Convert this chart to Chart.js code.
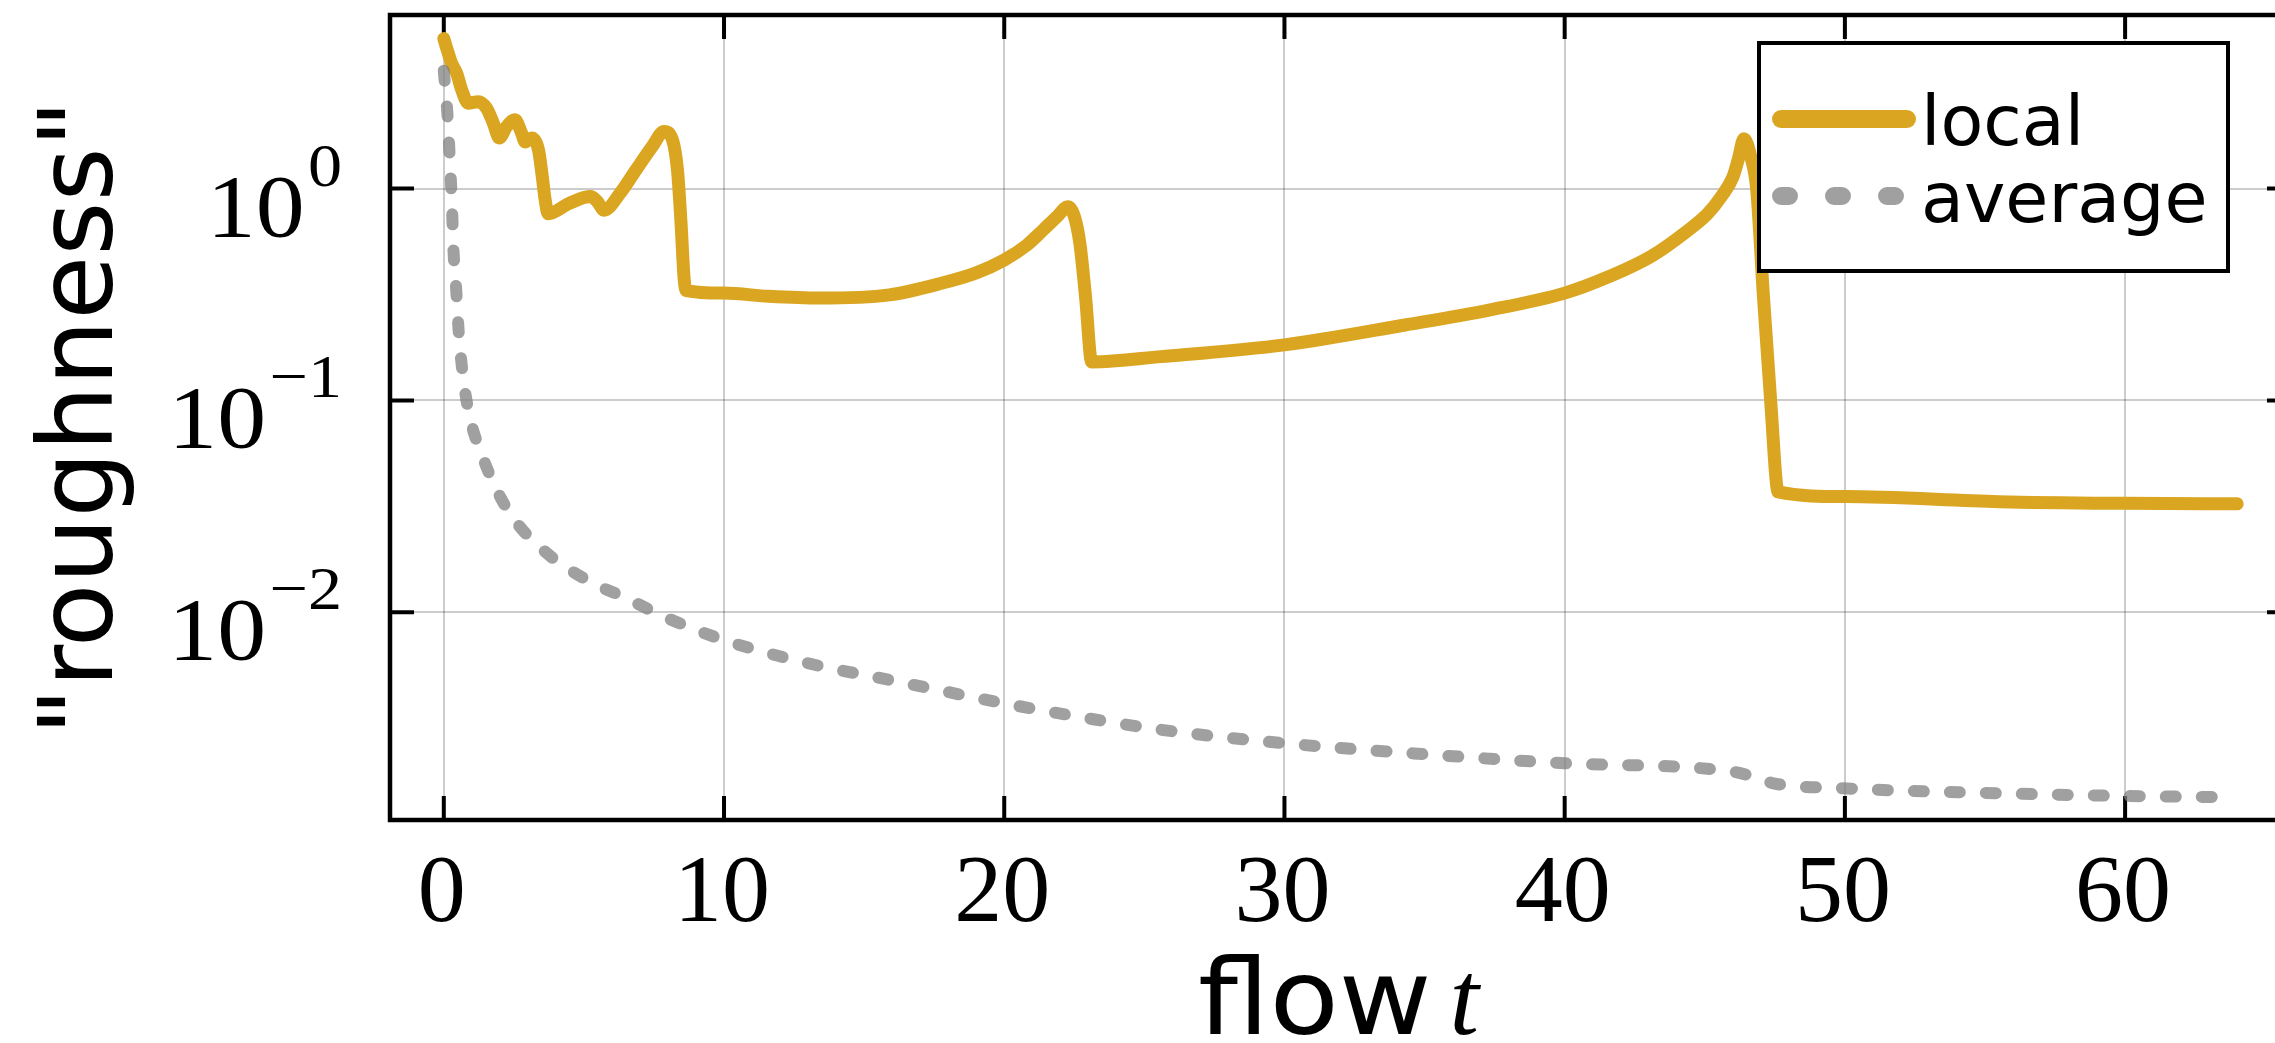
<!DOCTYPE html>
<html lang="en">
<head>
<meta charset="utf-8">
<style>
  html, body { margin: 0; padding: 0; background: #ffffff; }
  #frame { width: 2275px; height: 1043px; overflow: hidden; position: relative; }
  #wrap { width: 2291px; height: 1043px; position: relative; }
</style>
</head>
<body>
<div id="frame"><div id="wrap"><canvas id="myChart"></canvas></div></div>
<script src="https://cdn.jsdelivr.net/npm/chart.js"></script>
<script>
// values (flow time t, roughness on a log axis)
const localT = [0, 0.16, 0.28, 0.46, 0.64, 0.87, 1.23, 1.53, 1.77, 1.98, 2.24, 2.54, 2.78, 2.9, 3.14, 3.38, 3.5, 3.62, 3.72, 4.47,
  5.24, 5.48, 5.72, 6.29, 6.85, 7.44, 7.86, 8.16, 8.34, 8.46, 8.58, 8.66, 10.0, 11.6, 13.4, 15.9, 17.75, 19.0, 20.0, 20.8,
  21.4, 21.9, 22.27, 22.5, 22.7, 22.9, 23.12, 25.6, 30.0, 34.3, 37.3, 40.0, 41.5, 43.1, 44.3, 45.1, 45.6, 46.0, 46.2, 46.4,
  46.65, 46.85, 47.1, 47.35, 47.62, 50.0, 55.5, 60.0, 64.0];
const localV = [5.1, 4.35, 3.9, 3.5, 2.92, 2.53, 2.57, 2.39, 2.03, 1.73, 1.96, 2.11, 1.82, 1.66, 1.73, 1.52, 1.18, 0.88, 0.76, 0.85,
  0.916, 0.867, 0.79, 0.95, 1.22, 1.58, 1.86, 1.70, 1.22, 0.71, 0.37, 0.33, 0.321, 0.31, 0.304, 0.315, 0.357, 0.40, 0.46, 0.54,
  0.64, 0.74, 0.82, 0.74, 0.55, 0.31, 0.152, 0.161, 0.183, 0.227, 0.267, 0.321, 0.38, 0.48, 0.62, 0.76, 0.92, 1.13, 1.38, 1.72,
  1.40, 1.0, 0.30, 0.10, 0.037, 0.0352, 0.0333, 0.0327, 0.0325];

const averageT = [0, 0.14, 0.22, 0.29, 0.34, 0.44, 0.53, 0.67, 0.91, 1.39, 1.98, 2.69, 3.83, 5.2, 6.55, 7.89, 10.0, 13.0, 15.9, 20.0,
  23.0, 25.6, 30.0, 35.0, 40.0, 46.0, 46.9, 47.45, 49.9, 55.5, 60.0, 64.0];
const averageV = [3.6, 2.14, 1.33, 0.84, 0.53, 0.337, 0.213, 0.135, 0.0855, 0.054, 0.0357, 0.0256, 0.0183, 0.014, 0.0116, 0.0095, 0.0074, 0.00575, 0.0048, 0.00372,
  0.00316, 0.00279, 0.00241, 0.00214, 0.00194, 0.00177, 0.00165, 0.00156, 0.00148, 0.0014, 0.00136, 0.00134];

const seriesNames = ['local', 'average'];
const xTicks = [0, 10, 20, 30, 40, 50, 60];
const yTicks = [0.01, 0.1, 1];
const yTickExp = ['\u22122', '\u22121', '0'];

const gold = '#DAA520';
const grey = 'rgba(128,128,128,0.75)';

function pts(ts, vs) {
  return ts.map((t, i) => ({ x: t, y: vs[i] }));
}

// frame with inward ticks on all four sides, labels, titles and the boxed legend
const decor = {
  id: 'decor',
  beforeDatasetsDraw(chart) {
    const { ctx, chartArea: a, scales: { x, y } } = chart;
    ctx.save();
    ctx.strokeStyle = '#000';
    ctx.lineWidth = 4;
    ctx.beginPath();
    xTicks.forEach(v => {
      const px = x.getPixelForValue(v);
      ctx.moveTo(px, a.top); ctx.lineTo(px, a.top + 24);
      ctx.moveTo(px, a.bottom); ctx.lineTo(px, a.bottom - 24);
    });
    yTicks.forEach(v => {
      const py = y.getPixelForValue(v);
      ctx.moveTo(a.left, py); ctx.lineTo(a.left + 24, py);
      ctx.moveTo(a.right, py); ctx.lineTo(a.right - 24, py);
    });
    ctx.stroke();
    ctx.lineWidth = 4.5;
    ctx.strokeRect(a.left, a.top, a.right - a.left, a.bottom - a.top);
    ctx.restore();
  },
  afterDraw(chart) {
    const { ctx, chartArea: a, scales: { x, y } } = chart;
    ctx.save();
    ctx.fillStyle = '#000';
    ctx.textBaseline = 'alphabetic';

    // x tick labels
    ctx.font = '96px "Liberation Serif"';
    ctx.textAlign = 'center';
    xTicks.forEach(v => ctx.fillText(String(v), x.getPixelForValue(v) - 2, a.bottom + 101));

    // y tick labels 10^k
    yTicks.forEach((v, i) => {
      const py = y.getPixelForValue(v);
      ctx.save();
      ctx.translate(a.left - 48, py);
      ctx.scale(1.1, 1);
      ctx.textAlign = 'right';
      ctx.font = '62px "Liberation Serif"';
      ctx.fillText(yTickExp[i], 0, -3);
      const wExp = ctx.measureText(yTickExp[i]).width;
      ctx.font = '89px "Liberation Serif"';
      ctx.fillText('10', -wExp - 3, 47);
      ctx.restore();
    });

    // y title
    ctx.save();
    ctx.translate(a.left - 278, (a.top + a.bottom) / 2);
    ctx.rotate(-Math.PI / 2);
    ctx.textAlign = 'center';
    ctx.font = '104px "DejaVu Sans"';
    ctx.fillText('"roughness"', 0, 0);
    ctx.restore();

    // x title: flow t
    ctx.font = '106px "DejaVu Sans"';
    const wFlow = ctx.measureText('flow').width * 1.07;
    ctx.font = 'italic 106px "Liberation Serif"';
    const wT = ctx.measureText('t').width;
    const gap = 18;
    const x0 = (a.left + a.right) / 2 - 2 - (wFlow + gap + wT) / 2;
    const base = a.bottom + 214;
    ctx.textAlign = 'left';
    ctx.save();
    ctx.translate(x0, base);
    ctx.scale(1.07, 1);
    ctx.font = '106px "DejaVu Sans"';
    ctx.fillText('flow', 0, 0);
    ctx.restore();
    ctx.font = 'italic 106px "Liberation Serif"';
    ctx.fillText('t', x0 + wFlow + gap, base);

    // legend
    const bx = a.right - 532, by = a.top + 28, bw = 469, bh = 228;
    ctx.fillStyle = '#fff';
    ctx.fillRect(bx, by, bw, bh);
    ctx.strokeStyle = '#000';
    ctx.lineWidth = 4;
    ctx.strokeRect(bx, by, bw, bh);
    chart.data.datasets.forEach((ds, i) => {
      const ry = by + 76 + i * 77;
      ctx.save();
      ctx.strokeStyle = ds.borderColor;
      ctx.lineWidth = 18;
      ctx.lineCap = 'round';
      ctx.setLineDash(ds.legendDash);
      ctx.beginPath();
      ctx.moveTo(bx + 22, ry);
      ctx.lineTo(bx + 148, ry);
      ctx.stroke();
      ctx.restore();
      ctx.fillStyle = '#000';
      ctx.font = '70px "DejaVu Sans"';
      ctx.textAlign = 'left';
      ctx.fillText(ds.label, bx + 162, ry + 26);
    });
    ctx.restore();
  }
};

new Chart(document.getElementById('myChart'), {
  type: 'line',
  data: {
    datasets: [
      {
        label: seriesNames[0],
        data: pts(localT, localV),
        borderColor: gold,
        borderWidth: 13,
        borderCapStyle: 'round',
        borderJoinStyle: 'round',
        pointRadius: 0,
        cubicInterpolationMode: 'monotone',
        fill: false,
        order: 1,
        legendDash: []
      },
      {
        label: seriesNames[1],
        data: pts(averageT, averageV),
        borderColor: grey,
        borderWidth: 12,
        borderDash: [10, 26],
        borderCapStyle: 'round',
        borderJoinStyle: 'round',
        pointRadius: 0,
        cubicInterpolationMode: 'monotone',
        fill: false,
        order: 0,
        legendDash: [8, 45]
      }
    ]
  },
  options: {
    responsive: true,
    maintainAspectRatio: false,
    devicePixelRatio: 1,
    animation: false,
    events: [],
    layout: { padding: { left: 0, top: 15, right: 0, bottom: 0 } },
    plugins: { legend: { display: false }, tooltip: { enabled: false } },
    scales: {
      x: {
        type: 'linear',
        min: -1.92,
        max: 65.92,
        afterBuildTicks: s => { s.ticks = xTicks.map(v => ({ value: v })); },
        afterFit: s => { s.height = 223; },
        ticks: { display: false },
        grid: { color: 'rgba(0,0,0,0.2)', lineWidth: 2, drawTicks: false },
        border: { display: false }
      },
      y: {
        type: 'logarithmic',
        min: 0.0010471,
        max: 6.592,
        afterBuildTicks: s => { s.ticks = yTicks.map(v => ({ value: v })); },
        afterFit: s => { s.width = 390; },
        ticks: { display: false },
        grid: { color: 'rgba(0,0,0,0.2)', lineWidth: 2, drawTicks: false },
        border: { display: false }
      }
    }
  },
  plugins: [decor]
});
</script>
</body>
</html>
